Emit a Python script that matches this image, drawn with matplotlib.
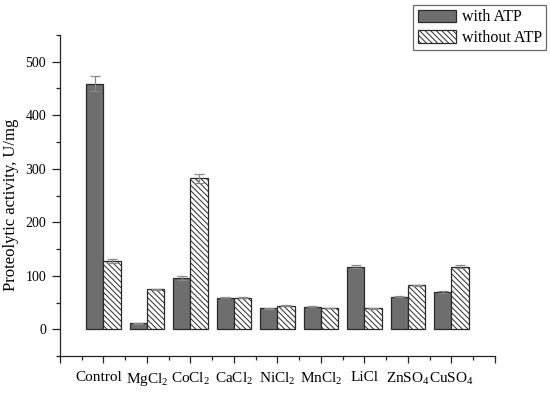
import numpy as np
import matplotlib.pyplot as plt
from matplotlib.ticker import MultipleLocator
from matplotlib.transforms import ScaledTranslation

# data
salts = ["Control", "MgCl$_2$", "CoCl$_2$", "CaCl$_2$", "NiCl$_2$",
         "MnCl$_2$", "LiCl", "ZnSO$_4$", "CuSO$_4$"]
with_atp = [459, 11, 96, 59, 39, 42, 117, 61, 70]
with_atp_err = [14, 0.5, 3, 1, 0.5, 1, 3, 1, 1.5]
without_atp = [127, 75, 282, 59, 44, 40, 39, 82, 117]
without_atp_err = [4, 1, 8, 1, 1, 0.5, 0.5, 1, 3]

plt.rcParams["font.family"] = ["Liberation Serif", "DejaVu Serif"]
plt.rcParams["mathtext.fontset"] = "custom"
plt.rcParams["mathtext.rm"] = "Liberation Serif"
plt.rcParams["mathtext.it"] = "Liberation Serif:italic"
plt.rcParams["mathtext.bf"] = "Liberation Serif:bold"
plt.rcParams["hatch.color"] = "#959595"
plt.rcParams["hatch.linewidth"] = 0.7

fig = plt.figure(figsize=(5.5, 3.93), dpi=100)
ax = fig.add_axes([0.109, 0.094, 0.791, 0.817])

x = np.arange(1, len(salts) + 1)
w = 0.4

ax.bar(x - w / 2, with_atp, width=w, color="#6e6e6e", edgecolor="#2a2a2a",
       linewidth=0.9, label="with ATP", zorder=2,
       yerr=with_atp_err, error_kw=dict(ecolor="#888888", elinewidth=0.9,
                                        capsize=3.5, capthick=0.9))
ax.bar(x + w / 2, without_atp, width=w, color="white", edgecolor="#2a2a2a",
       hatch="\\\\\\\\\\\\", linewidth=0.9, label="without ATP", zorder=2,
       yerr=without_atp_err, error_kw=dict(ecolor="#888888", elinewidth=0.9,
                                           capsize=3.5, capthick=0.9))

ax.set_xlim(0, 10)
ax.set_ylim(-50, 550)
# major ticks at every integer on x, labels only under the salts
ax.set_xticks(np.arange(0, 11))
ax.set_xticklabels([""] + salts + [""], fontsize=11)
ax.xaxis.set_minor_locator(MultipleLocator(0.5))
ax.set_yticks([0, 100, 200, 300, 400, 500])
ax.yaxis.set_minor_locator(MultipleLocator(50))
ax.tick_params(axis="y", labelsize=10)

ax.tick_params(which="major", direction="out", length=5, width=0.9,
               color="#222222")
ax.tick_params(which="minor", direction="out", length=3, width=0.9,
               color="#222222")
ax.tick_params(axis="x", which="major", pad=6)
ax.tick_params(axis="y", which="major", length=6, pad=4)

# "Control" sits a little left of its tick in the original
lbl = ax.get_xticklabels()[1]
lbl.set_transform(lbl.get_transform() +
                  ScaledTranslation(-5 / 100, 0, fig.dpi_scale_trans))

for s in ["top", "right"]:
    ax.spines[s].set_visible(False)
for s in ["left", "bottom"]:
    ax.spines[s].set_linewidth(0.9)
    ax.spines[s].set_color("#222222")

ax.set_ylabel("Proteolytic activity, U/mg", fontsize=12)
ax.yaxis.set_label_coords(-0.093, 0.47)

leg = ax.legend(loc="upper right", bbox_to_anchor=(546 / 550, 1 - 5 / 393),
                bbox_transform=fig.transFigure,
                fontsize=11.5, frameon=True, fancybox=False, borderpad=0.27,
                handlelength=2.4, handleheight=0.8, handletextpad=0.35,
                labelspacing=0.3, borderaxespad=0)
leg.get_frame().set_edgecolor("#444444")
leg.get_frame().set_linewidth(0.9)

fig.savefig("out.png", dpi=100)
